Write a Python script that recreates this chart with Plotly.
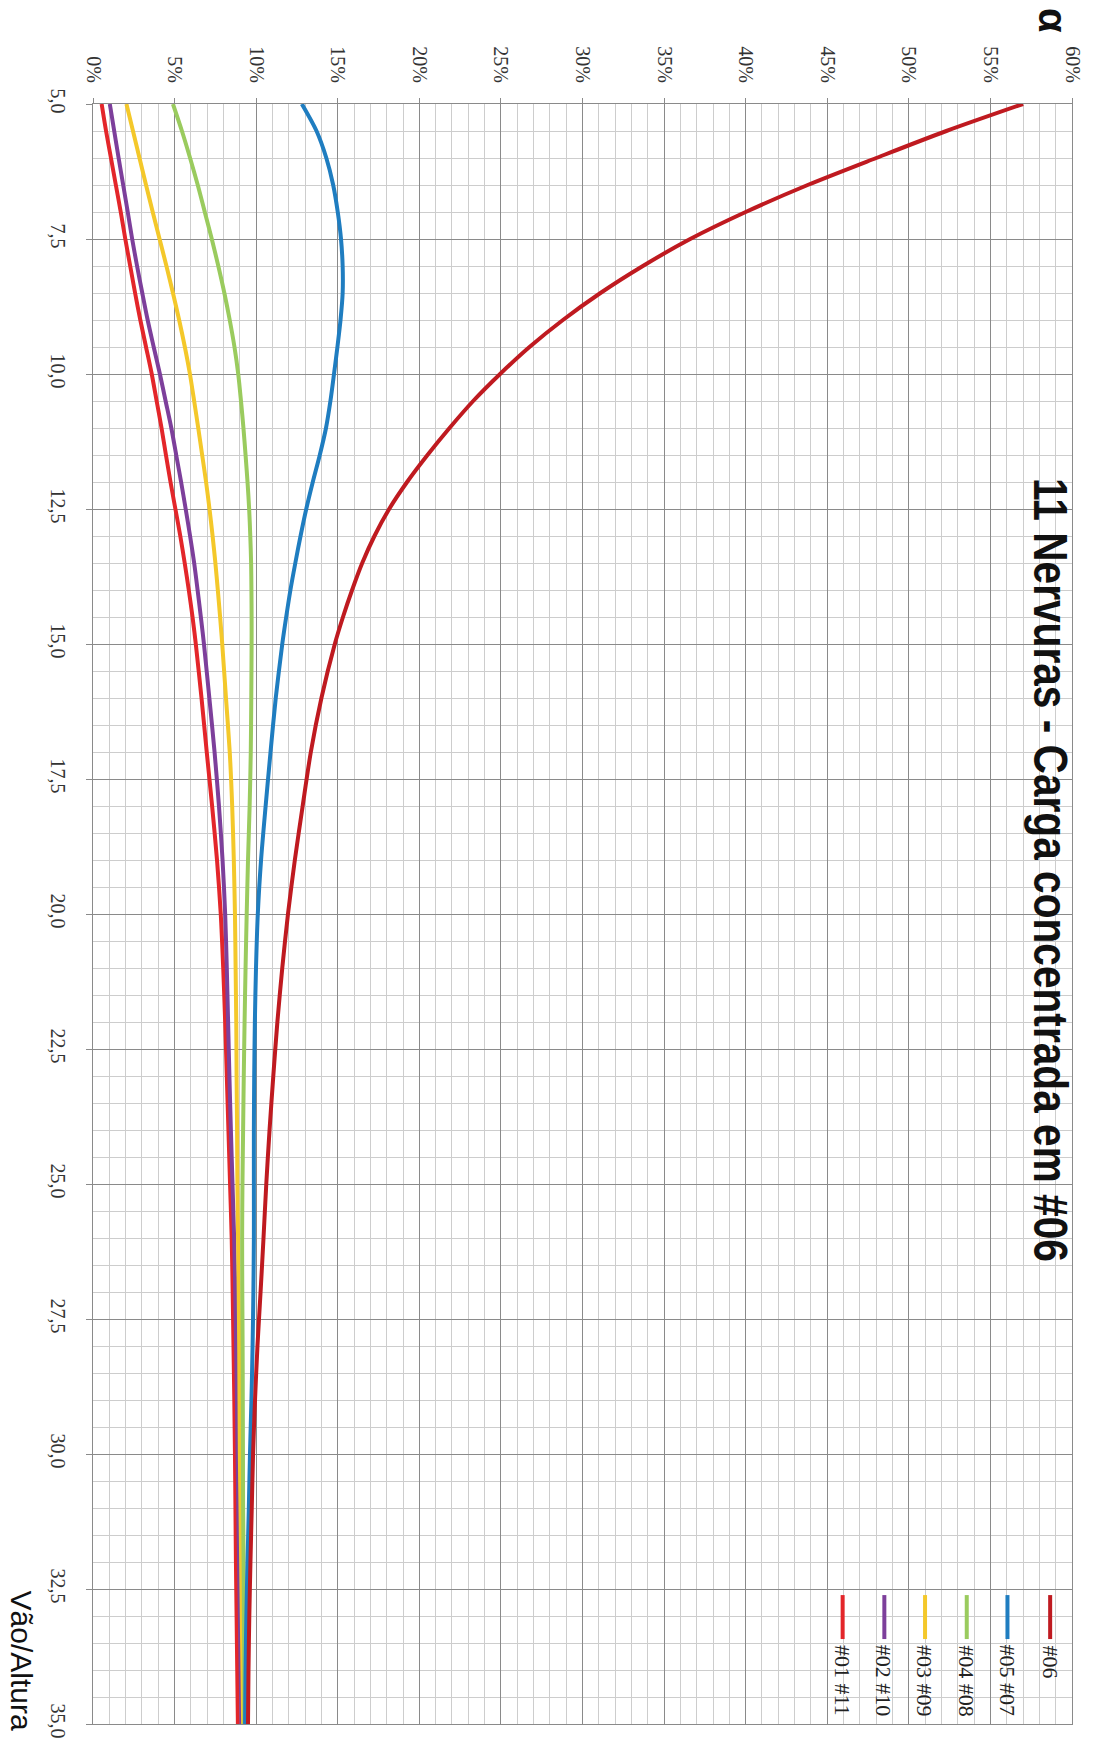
import plotly.graph_objects as go

# ---- data ----
vao_altura = [5, 5.5, 6, 6.5, 7, 7.5, 8, 8.5, 9, 9.5, 10, 10.5, 11, 11.5, 12, 12.5, 13, 13.5, 14, 14.5,
              15, 16, 17, 18, 19, 20, 21, 22, 23, 24, 25, 26, 27, 28, 29, 30, 31, 32, 33, 34, 35]

alpha_01_11 = [0.53, 0.8, 1.1, 1.4, 1.7, 1.98, 2.28, 2.58, 2.9, 3.25, 3.6, 3.9, 4.2, 4.47, 4.75, 5.05, 5.35, 5.62, 5.87, 6.1,
               6.3, 6.65, 6.97, 7.3, 7.6, 7.83, 7.98, 8.1, 8.2, 8.3, 8.4, 8.5, 8.56, 8.61, 8.66, 8.7, 8.73, 8.76, 8.8, 8.84, 8.88]
alpha_02_10 = [1.03, 1.3, 1.57, 1.85, 2.13, 2.4, 2.7, 3.02, 3.35, 3.72, 4.1, 4.45, 4.8, 5.1, 5.4, 5.68, 5.95, 6.2, 6.41, 6.61,
               6.8, 7.13, 7.45, 7.72, 7.94, 8.1, 8.2, 8.28, 8.36, 8.45, 8.55, 8.65, 8.72, 8.77, 8.82, 8.86, 8.9, 8.95, 9.0, 9.05, 9.1]
alpha_03_09 = [2.05, 2.45, 2.85, 3.25, 3.66, 4.08, 4.5, 4.9, 5.28, 5.63, 5.94, 6.2, 6.45, 6.69, 6.93, 7.14, 7.33, 7.5, 7.65, 7.79,
               7.92, 8.15, 8.38, 8.53, 8.63, 8.7, 8.74, 8.78, 8.8, 8.83, 8.85, 8.89, 8.93, 8.96, 8.98, 9.0, 9.04, 9.08, 9.12, 9.16, 9.2]
alpha_04_08 = [4.9, 5.45, 5.95, 6.42, 6.85, 7.28, 7.68, 8.05, 8.38, 8.67, 8.9, 9.07, 9.22, 9.35, 9.47, 9.57, 9.64, 9.69, 9.71, 9.72,
               9.72, 9.7, 9.67, 9.6, 9.5, 9.42, 9.35, 9.29, 9.24, 9.2, 9.16, 9.14, 9.15, 9.17, 9.18, 9.19, 9.2, 9.23, 9.25, 9.27, 9.28]
alpha_05_07 = [12.8, 13.7, 14.3, 14.72, 15.0, 15.2, 15.3, 15.3, 15.17, 14.98, 14.77, 14.55, 14.28, 13.9, 13.47, 13.07, 12.72, 12.4, 12.1, 11.84,
               11.6, 11.2, 10.88, 10.58, 10.3, 10.1, 9.99, 9.92, 9.88, 9.86, 9.86, 9.86, 9.83, 9.78, 9.71, 9.62, 9.55, 9.47, 9.4, 9.35, 9.32]
alpha_06 = [57.0, 52.3, 48.0, 43.8, 40.0, 36.6, 33.7, 31.1, 28.8, 26.75, 24.95, 23.3, 21.85, 20.5, 19.25, 18.15, 17.25, 16.5, 15.88, 15.32,
            14.82, 14.0, 13.35, 12.85, 12.37, 11.95, 11.6, 11.3, 11.05, 10.82, 10.62, 10.45, 10.27, 10.08, 9.93, 9.81, 9.73, 9.65, 9.58, 9.53, 9.5]

series_names = ["#01 #11", "#02 #10", "#03 #09", "#04 #08", "#05 #07", "#06"]
series_values = [alpha_01_11, alpha_02_10, alpha_03_09, alpha_04_08, alpha_05_07, alpha_06]
series_colors = ["#E3262A", "#7D3F9B", "#F4C82A", "#9ACB5E", "#1F7DC0", "#BF1A20"]

alpha_ticks = [0, 5, 10, 15, 20, 25, 30, 35, 40, 45, 50, 55, 60]
alpha_tick_text = [f"{v}%" for v in alpha_ticks]
vao_ticks = [5.0, 7.5, 10.0, 12.5, 15.0, 17.5, 20.0, 22.5, 25.0, 27.5, 30.0, 32.5, 35.0]

title_text = "11 Nervuras - Carga concentrada em #06"
alpha_label = "α"
vao_label = "Vão/Altura"

# ---- figure ----
fig = go.Figure()
for name, vals, col in zip(series_names, series_values, series_colors):
    fig.add_trace(go.Scatter(x=vals, y=vao_altura, mode="lines", name=name,
                             line=dict(color=col, width=4, shape="spline", smoothing=0.8),
                             showlegend=False, hoverinfo="skip"))

W, H = 1096, 1751
ml, mr, mt, mb = 93, 17, 104, 26

serif = "Liberation Serif, Times New Roman, serif"
tick_font = dict(family=serif, size=20, color="#333333")

fig.update_layout(
    width=W, height=H,
    margin=dict(l=ml, r=mr, t=mt, b=mb, pad=0),
    paper_bgcolor="white", plot_bgcolor="white",
    separators=",.",
    xaxis=dict(
        side="top", range=[0, 60], tickvals=alpha_ticks, ticktext=alpha_tick_text,
        tickangle=90, tickfont=tick_font,
        showgrid=True, gridcolor="#8a8a8a", gridwidth=1,
        ticks="outside", ticklen=5, tickcolor="#8a8a8a",
        minor=dict(dtick=1, showgrid=True, gridcolor="#cdcdcd", gridwidth=1, ticks=""),
        showline=True, linecolor="#8a8a8a", linewidth=1, mirror=True,
        zeroline=False, ticklabelstandoff=8,
    ),
    yaxis=dict(
        range=[35, 5], tickvals=vao_ticks, tickformat=".1f",
        tickangle=90, tickfont=tick_font,
        showgrid=True, gridcolor="#8a8a8a", gridwidth=1,
        ticks="outside", ticklen=6, tickcolor="#8a8a8a",
        minor=dict(dtick=0.5, showgrid=True, gridcolor="#cdcdcd", gridwidth=1, ticks=""),
        showline=True, linecolor="#8a8a8a", linewidth=1, mirror=True,
        zeroline=False, ticklabelstandoff=11,
    ),
)

pw, ph = W - ml - mr, H - mt - mb
def px(xp):
    return (xp - ml) / pw
def py(yp):
    return (H - mb - yp) / ph

# title
fig.add_annotation(text="<b>" + title_text + "</b>", textangle=90, xref="paper", yref="paper",
                   x=px(1058), y=py(870), xanchor="center", yanchor="middle", showarrow=False,
                   font=dict(family="Liberation Sans, Arial", size=49, color="#111111"))
# axis labels
fig.add_annotation(text="<b>" + alpha_label + "</b>", textangle=90, xref="paper", yref="paper",
                   x=px(1060), y=py(20), xanchor="center", yanchor="middle", showarrow=False,
                   font=dict(family="Liberation Sans, Arial", size=40, color="#111111"))
fig.add_annotation(text=vao_label, textangle=90, xref="paper", yref="paper",
                   x=px(21), y=py(1661), xanchor="center", yanchor="middle", showarrow=False,
                   font=dict(family="Liberation Sans, Arial", size=30, color="#111111"))

# custom rotated legend
leg_x = [848, 890, 931, 973, 1014, 1057]
for name, col, lx in zip(series_names, series_colors, leg_x):
    fig.add_shape(type="line", xref="paper", yref="paper",
                  x0=px(lx), x1=px(lx), y0=py(1596), y1=py(1640),
                  line=dict(color=col, width=4))
    fig.add_annotation(text=name, textangle=90, xref="paper", yref="paper",
                       x=px(lx), y=py(1644), yanchor="top", xanchor="center", showarrow=False,
                       font=dict(family=serif, size=22, color="#222222"))

post = """
document.body.style.margin='0';
document.body.style.overflow='hidden';
document.querySelectorAll('text.annotation-text').forEach(function(t){
  if (t.textContent.indexOf('Nervuras') >= 0) {
    t.setAttribute('textLength', '784');
    t.setAttribute('lengthAdjust', 'spacingAndGlyphs');
  }
});
"""
fig.write_html("out.html", config={"displayModeBar": False}, post_script=post)
